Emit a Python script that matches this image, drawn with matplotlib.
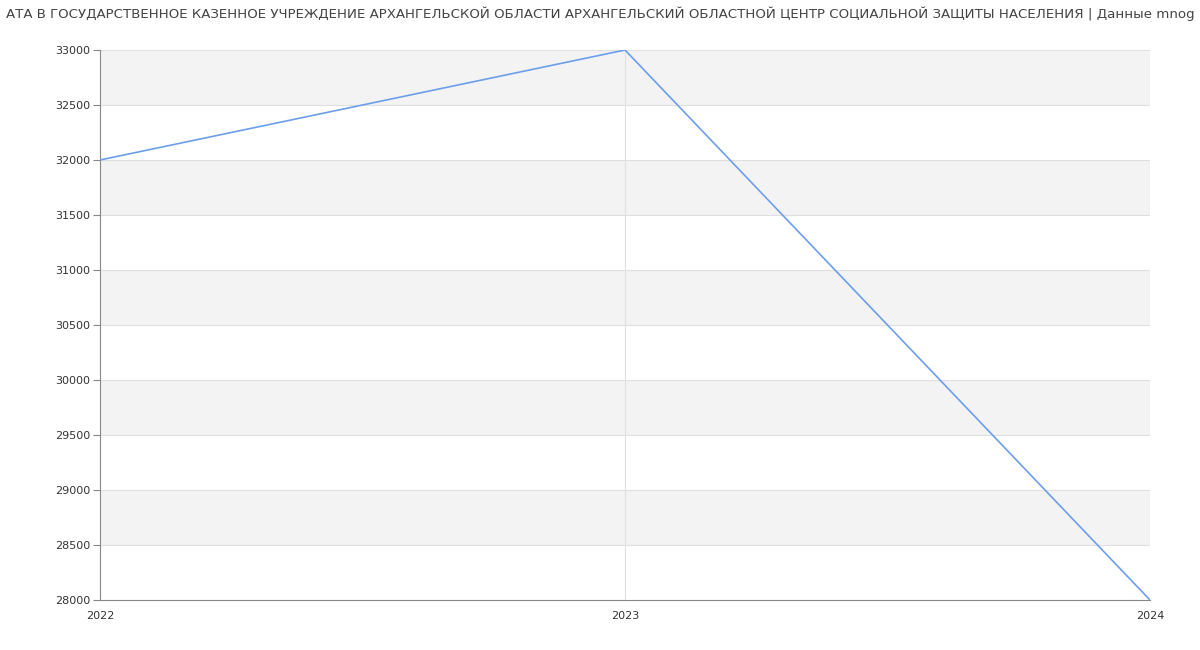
import matplotlib
matplotlib.use("Agg")
import matplotlib.pyplot as plt

# ── data ──────────────────────────────────────
years = [2022, 2023, 2024]
salary = [32000, 33000, 28000]
y_ticks = [28000, 28500, 29000, 29500, 30000, 30500, 31000, 31500, 32000, 32500, 33000]
title = ("АТА В ГОСУДАРСТВЕННОЕ КАЗЕННОЕ УЧРЕЖДЕНИЕ АРХАНГЕЛЬСКОЙ ОБЛАСТИ "
         "АРХАНГЕЛЬСКИЙ ОБЛАСТНОЙ ЦЕНТР СОЦИАЛЬНОЙ ЗАЩИТЫ НАСЕЛЕНИЯ | Данные mnog")

fig = plt.figure(figsize=(12, 6.5), dpi=100)
ax = fig.add_axes([100 / 1200, 50 / 650, 1050 / 1200, 550 / 650])

# alternating horizontal bands
for i in range(len(y_ticks) - 1):
    if (len(y_ticks) - 2 - i) % 2 == 0:
        ax.axhspan(y_ticks[i], y_ticks[i + 1], color="#f3f3f3", zorder=0, lw=0)

for y in y_ticks[1:]:
    ax.axhline(y, color="#e0e0e0", lw=0.8, zorder=1)
for x in years[1:]:
    ax.axvline(x, color="#e0e0e0", lw=0.8, zorder=1)

ax.plot(years, salary, color="#6d9eeb", lw=1.2, zorder=3)

ax.set_xlim(years[0], years[-1])
ax.set_ylim(y_ticks[0], y_ticks[-1])
ax.set_xticks(years)
ax.set_xticklabels([str(y) for y in years])
ax.set_yticks(y_ticks)
ax.tick_params(axis="x", length=0, pad=8, labelsize=8, labelcolor="#333333")
ax.tick_params(axis="y", length=5, width=0.8, color="#888888", pad=2,
               labelsize=8, labelcolor="#333333")

for side in ("top", "right"):
    ax.spines[side].set_visible(False)
for side in ("left", "bottom"):
    ax.spines[side].set_color("#888888")
    ax.spines[side].set_linewidth(0.8)

fig.text(0.5, 1 - 14 / 650, title, ha="center", va="center",
         fontsize=9.66, color="#444444")

fig.savefig("out.png", dpi=100)
